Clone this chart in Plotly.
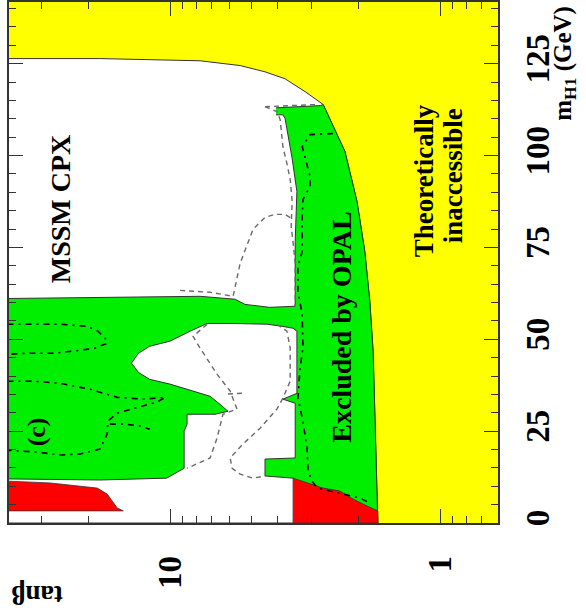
import math
import plotly.graph_objects as go

# ---- axis limits -------------------------------------------------------
TANB_LIMITS = (39.5, 0.61)      # tan(beta), drawn right-to-left
MH1_LIMITS = (0.0, 141.8)       # m_H1 in GeV

TANB_MAJOR = [1, 10]
TANB_MINOR = [0.7, 0.8, 0.9, 2, 3, 4, 5, 6, 7, 8, 9, 20, 30]
MH1_MAJOR = [0, 25, 50, 75, 100, 125]

# ---- theoretical boundary (edge of the accessible region) --------------
BOUND_TANB = [40, 18.2, 7.74, 5.50, 4.45, 3.75, 3.16, 2.71, 2.25, 2.03,
              1.90, 1.82, 1.77, 1.74, 1.71, 1.70]
BOUND_M = [126.4, 126.4, 125.8, 124.5, 122.8, 120.9, 117.4, 113.9, 101.1,
           87.5, 73.9, 60.3, 46.7, 27.7, 11.4, 0.0]

# ---- region excluded by OPAL (observed) --------------------------------
EXCL_TANB = [4.05, 2.78, 2.71, 2.25, 2.03, 1.90, 1.82, 1.77, 1.74, 1.71, 1.70,
             3.50, 3.50, 4.45, 4.45, 3.44, 3.44, 3.82, 3.39, 3.39, 3.50, 3.82,
             4.37, 5.84, 7.29, 8.43, 10.0, 11.9, 13.1, 13.9, 13.1, 11.9, 10.0,
             8.22, 7.11, 6.53, 6.10, 6.81, 8.65, 8.65, 8.87, 8.87, 10.3, 18.2,
             40, 40, 18.2, 7.74, 5.74, 5.28, 4.27, 3.44, 3.44, 3.44, 3.41,
             3.39, 3.53, 3.75, 3.82, 4.05]
EXCL_M = [113.0, 113.6, 113.9, 101.1, 87.5, 73.9, 60.3, 46.7, 27.7, 11.4, 0.0,
          0.0, 12.2, 12.8, 17.4, 17.7, 32.6, 33.7, 35.3, 52.2, 53.0, 53.5,
          54.1, 54.3, 54.3, 52.2, 49.5, 48.1, 46.2, 43.5, 41.0, 39.1, 37.8,
          35.9, 34.5, 32.3, 30.4, 29.6, 29.6, 26.9, 25.0, 14.9, 12.2, 11.7,
          12.0, 61.1, 61.4, 61.7, 60.9, 59.5, 58.7, 59.0, 63.0, 76.6, 84.8,
          90.2, 99.2, 110.1, 111.1, 111.1]

# ---- red regions at low mass -------------------------------------------
RED_LEFT_TANB = [40, 27.8, 18.6, 17.1, 15.7, 14.9, 40]
RED_LEFT_M = [11.4, 10.9, 9.5, 7.9, 4.1, 3.3, 3.3]
RED_RIGHT_TANB = [3.50, 3.11, 2.71, 2.35, 2.10, 1.86, 1.70, 1.70, 3.50]
RED_RIGHT_M = [12.2, 10.9, 9.5, 8.7, 6.5, 4.6, 3.3, 0.0, 0.0]

# ---- expected limits (grey dashed) --------------------------------------
EXP_LINES = [
    ([4.45, 2.85], [113.3, 113.9]),
    ([4.45, 4.02, 3.91, 3.82, 3.69, 3.59, 3.53, 3.56, 3.50, 3.44, 3.44, 3.44],
     [113.3, 112.0, 109.8, 102.4, 97.8, 93.5, 87.5, 80.7, 76.1, 70.7, 63.0, 59.0]),
    ([9.18, 7.11, 5.84, 5.50, 4.93, 4.45, 4.08, 3.75, 3.50],
     [63.3, 62.8, 61.7, 70.7, 79.9, 83.2, 84.0, 84.0, 82.6]),
    ([7.29, 8.22, 7.74, 6.70, 5.99, 5.65, 6.37, 6.70, 7.11, 8.22, 8.65],
     [54.1, 50.8, 47.6, 40.5, 35.9, 31.0, 29.6, 23.1, 17.7, 15.5, 14.9]),
    ([4.02, 3.69, 3.59, 3.59, 3.82, 4.02, 4.64, 5.37, 5.99, 5.89, 5.50, 4.93, 4.45],
     [54.1, 52.2, 47.6, 38.6, 34.0, 31.0, 25.8, 21.5, 17.7, 14.9, 13.3, 12.2, 12.8]),
    ([6.10, 5.41], [35.1, 35.3]),
]

# ---- further exclusion contours (black dash-dot) ------------------------
ALT_LINES = [
    ([2.49, 3.03, 3.24, 3.16, 3.03, 3.03, 3.22, 3.24, 3.24, 3.36, 3.36, 3.24,
      3.22, 3.30, 3.36, 3.22, 3.11, 3.08, 2.98, 2.85, 2.56, 2.25, 1.98, 1.82],
     [106.0, 105.7, 102.4, 99.2, 94.3, 91.6, 88.0, 83.4, 73.9, 69.8, 63.0, 56.8,
      47.6, 42.1, 34.0, 27.7, 20.4, 14.1, 11.4, 9.5, 8.7, 7.9, 6.8, 5.4]),
    ([40, 32.2, 25.5, 20.3, 18.5, 17.4, 17.1, 19.0, 21.5, 27.1, 33.8, 40],
     [54.1, 54.1, 54.1, 53.5, 52.2, 50.3, 48.9, 47.6, 47.0, 46.2, 46.2, 45.9]),
    ([40, 32.2, 25.5, 19.8, 15.7, 12.6, 11.2, 10.4, 11.2, 13.7, 15.7, 17.0,
      17.1, 18.2, 21.5, 25.5, 31.1, 40],
     [38.6, 38.6, 38.0, 36.4, 34.2, 33.7, 34.0, 34.2, 32.9, 31.0, 29.9, 27.7,
      24.2, 20.1, 18.8, 18.5, 19.3, 19.8]),
    ([16.7, 14.7, 12.9, 11.9], [26.9, 26.9, 26.4, 25.5]),
]

YELLOW = "#ffff00"
GREEN = "#00ee00"
RED = "#ff0000"
EDGE = "#333333"
SERIF = "Liberation Serif"

fig = go.Figure()

# accessible region (white) on top of the yellow background
fig.add_trace(go.Scatter(
    x=BOUND_TANB + [BOUND_TANB[0]], y=BOUND_M + [BOUND_M[-1]],
    mode="lines", fill="toself", fillcolor="white",
    line=dict(color=EDGE, width=1), hoverinfo="skip"))

fig.add_trace(go.Scatter(
    x=EXCL_TANB, y=EXCL_M, mode="lines", fill="toself", fillcolor=GREEN,
    line=dict(color=EDGE, width=1), hoverinfo="skip"))

for xs, ys in [(RED_LEFT_TANB, RED_LEFT_M), (RED_RIGHT_TANB, RED_RIGHT_M)]:
    fig.add_trace(go.Scatter(
        x=xs, y=ys, mode="lines", fill="toself", fillcolor=RED,
        line=dict(color=EDGE, width=0.8), hoverinfo="skip"))

for xs, ys in EXP_LINES:
    fig.add_trace(go.Scatter(
        x=xs, y=ys, mode="lines",
        line=dict(color="#6a6a6a", width=1.4, dash="5px,4px"), hoverinfo="skip"))

for xs, ys in ALT_LINES:
    fig.add_trace(go.Scatter(
        x=xs, y=ys, mode="lines",
        line=dict(color="black", width=1.6, dash="6px,5px,2px,5px"), hoverinfo="skip"))

# ---- plot area geometry (pixels) ----------------------------------------
W, H = 586, 610
ML, MR, MT, MB = 9, 88, 0, 87
PW, PH = W - ML - MR, H - MT - MB


def px(x):
    return (x - ML) / PW


def py(y):
    return (H - MB - y) / PH


bold = dict(family=SERIF, color="black", weight="bold")


def label(text, x, y, size, angle=-90):
    fig.add_annotation(text=text, x=px(x), y=py(y), xref="paper", yref="paper",
                       showarrow=False, textangle=angle,
                       font=dict(bold, size=size), xanchor="center", yanchor="middle")


label("MSSM CPX", 60, 208, 28)
label("(c)", 36, 432, 26)
label("Excluded by OPAL", 342, 327, 28)
label("Theoretically", 424, 180, 27)
label("inaccessible", 453, 175, 27)
label("tanβ", 37, 596, 27, angle=180)
label("m<sub>H1</sub> (GeV)", 565, 62, 25)

axis_common = dict(showgrid=False, zeroline=False, showline=True,
                   linecolor=EDGE, linewidth=1.5, mirror="allticks",
                   ticks="inside", tickcolor=EDGE, tickwidth=1.2, ticklen=14,
                   tickangle=-90, tickfont=dict(bold, size=33))

fig.update_xaxes(
    type="log", range=[math.log10(TANB_LIMITS[0]), math.log10(TANB_LIMITS[1])],
    tickvals=TANB_MAJOR, ticktext=[str(v) for v in TANB_MAJOR],
    minor=dict(tickvals=TANB_MINOR, ticks="inside", ticklen=7,
               tickcolor=EDGE, tickwidth=1.2),
    ticklabelstandoff=18, **axis_common)

fig.update_yaxes(
    range=list(MH1_LIMITS), side="right",
    tickvals=MH1_MAJOR, ticktext=[str(v) for v in MH1_MAJOR],
    minor=dict(dtick=5, ticks="inside", ticklen=7, tickcolor=EDGE, tickwidth=1.2),
    ticklabelstandoff=10, **axis_common)

fig.update_layout(
    width=W, height=H, margin=dict(l=ML, r=MR, t=MT, b=MB, pad=0),
    plot_bgcolor=YELLOW, paper_bgcolor="white", showlegend=False)

fig.write_html("out.html")
